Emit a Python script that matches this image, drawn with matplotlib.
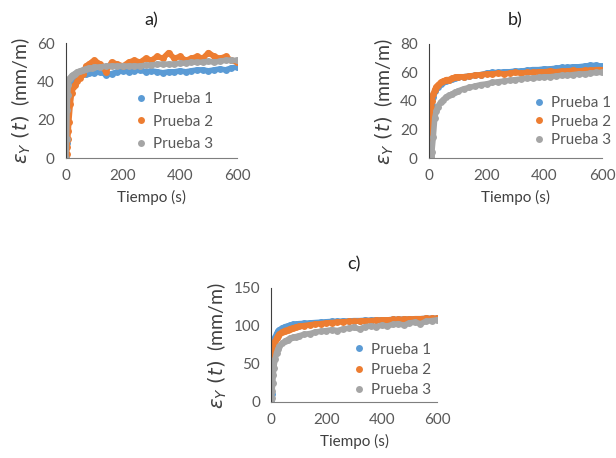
import matplotlib
matplotlib.use('Agg')
from matplotlib import pyplot as plt
from matplotlib.lines import Line2D

plt.rcParams['font.family'] = ['Lato', 'DejaVu Sans']

# tiempo (s), comun a los tres ensayos
t = [0, 2, 4, 6, 8, 10, 15, 20, 25, 30, 40, 50, 60, 70, 80, 90, 100,
     120, 140, 160, 180, 200, 220, 240, 260, 280, 300, 320, 340, 360,
     380, 400, 420, 440, 460, 480, 500, 520, 540, 560, 580, 600]

# a)
a_p1 = [0, 8, 18, 24, 30, 34, 38, 40, 41, 42, 43, 43.5, 44, 44, 44.5, 45, 44.5,
        45, 43.5, 44, 45, 45.5, 45, 45.5, 46, 45, 45.5, 45, 44.5, 45,
        45, 45.5, 45, 45.5, 46, 46, 45.5, 46, 46.5, 46, 47, 47.5]
a_p2 = [0, 2, 6, 10, 14, 19, 28, 34, 37, 38, 40, 42, 44, 48, 49, 50, 51,
        49, 45, 50, 49, 48, 50, 51, 50, 52, 51, 53, 52, 55,
        52, 53, 51, 52, 53, 52, 55, 53, 52, 53, 51, 50]
a_p3 = [0, 10, 25, 33, 38, 41, 42, 43, 43.5, 44, 45, 45.5, 46, 46.5, 47, 47, 47.5,
        47.5, 48, 48, 48, 48, 48, 48, 48, 48.5, 48.5, 49, 49, 49,
        49, 49.5, 49.5, 50, 50, 50, 50.5, 50, 50.5, 51, 51, 51]

# b)
b_p1 = [0, 5, 15, 25, 32, 37, 43, 47, 49, 50, 52, 53, 54, 55, 55.5, 56, 56.5,
        57, 57.5, 58, 58.5, 59.5, 60, 60, 60.5, 60.5, 61, 61, 61.5, 62,
        62, 62.5, 62.5, 63, 63.5, 63.5, 64, 64, 64.5, 65, 65, 64.5]
b_p2 = [0, 8, 20, 30, 36, 40, 45, 48, 50, 51, 53, 54, 55, 55, 56, 56.5, 57,
        57, 57.5, 58, 58.5, 59, 59, 59.5, 59, 59.5, 60, 59.5, 60, 60,
        60.5, 60.5, 61, 60.5, 61, 61, 61.5, 61, 61.5, 61.5, 62, 62]
b_p3 = [0, 0, 0, 1, 2, 4, 15, 28, 33, 36, 39, 41, 43, 44, 45, 46, 47,
        48.5, 49.5, 50.5, 51.5, 52, 53, 53.5, 54, 54.5, 55, 55.5, 56, 56,
        56.5, 57, 57, 57.5, 58, 58, 58.5, 59, 59, 59.5, 60, 60]

# c)
c_p1 = [0, 10, 25, 50, 65, 75, 85, 90, 93, 95, 97, 99, 100, 101, 102, 102, 103,
        103.5, 104, 104.5, 105, 105.5, 106, 106, 106.5, 106.5, 107, 107, 107.5, 107.5,
        108, 108, 108, 108.5, 108.5, 109, 109, 109.5, 109.5, 110, 110, 110]
c_p2 = [40, 55, 62, 68, 72, 75, 80, 84, 87, 89, 92, 94, 95, 96.5, 97.5, 98.5, 99.5,
        100.5, 101.5, 102.5, 103, 104, 104.5, 105, 105.5, 106, 106, 106.5, 107, 107,
        107.5, 108, 108, 108.5, 108.5, 109, 109, 109.5, 109.5, 110, 110, 110]
c_p3 = [0, 5, 15, 25, 35, 45, 57, 65, 70, 73, 77, 80, 82, 84, 85, 86, 87,
        89, 90, 92, 93, 94, 95, 94, 96, 97, 98, 96, 99, 100,
        99, 101, 100, 102, 103, 101, 104, 105, 103, 106, 107, 108]

labels = ['Prueba 1', 'Prueba 2', 'Prueba 3']
colors = ['#5B9BD5', '#ED7D31', '#A5A5A5']
txt = '#595959'

panels = [
    ('a)', [0.1071, 0.655, 0.2776, 0.251], [a_p1, a_p2, a_p3], [0, 20, 40, 60], (0.33, 0.69), 0.55),
    ('b)', [0.6964, 0.655, 0.2808, 0.249], [b_p1, b_p2, b_p3], [0, 20, 40, 60, 80], (0.53, 0.66), 0.28),
    ('c)', [0.440, 0.1223, 0.2695, 0.249], [c_p1, c_p2, c_p3], [0, 50, 100, 150], (0.42, 0.64), 0.4),
]

fig = plt.figure(figsize=(6.16, 4.58), dpi=100)

for title, pos, series, yt, leg_pos, lsp in panels:
    ax = fig.add_axes(pos)
    for y, c in zip(series, colors):
        ax.plot(t, y, '-o', color=c, lw=4, ms=5, mew=0, solid_capstyle='round')
    ax.set_xlim(0, 600)
    ax.set_ylim(yt[0], yt[-1])
    ax.set_xticks([0, 200, 400, 600])
    ax.set_yticks(yt)
    for s in ['top', 'right']:
        ax.spines[s].set_visible(False)
    ax.spines['left'].set_color('#404040')
    ax.spines['bottom'].set_color('#7f7f7f')
    ax.tick_params(length=0, labelsize=11, labelcolor=txt, pad=8)
    ax.set_xlabel('Tiempo (s)', fontsize=11, color='#404040', labelpad=5)
    ax.set_ylabel(r'$\varepsilon_Y\ (t)$  (mm/m)', fontsize=14, color='#404040', labelpad=3)
    ax.set_title(title, fontsize=13, color='#202020', pad=13)
    handles = [Line2D([], [], marker='o', ls='', color=c, ms=5, mew=0) for c in colors]
    ax.legend(handles, labels, loc='upper left', bbox_to_anchor=leg_pos, frameon=False,
              fontsize=11, labelspacing=lsp, handlelength=0.6, handletextpad=0.5,
              labelcolor=txt)

fig.savefig('out.png', dpi=100)
